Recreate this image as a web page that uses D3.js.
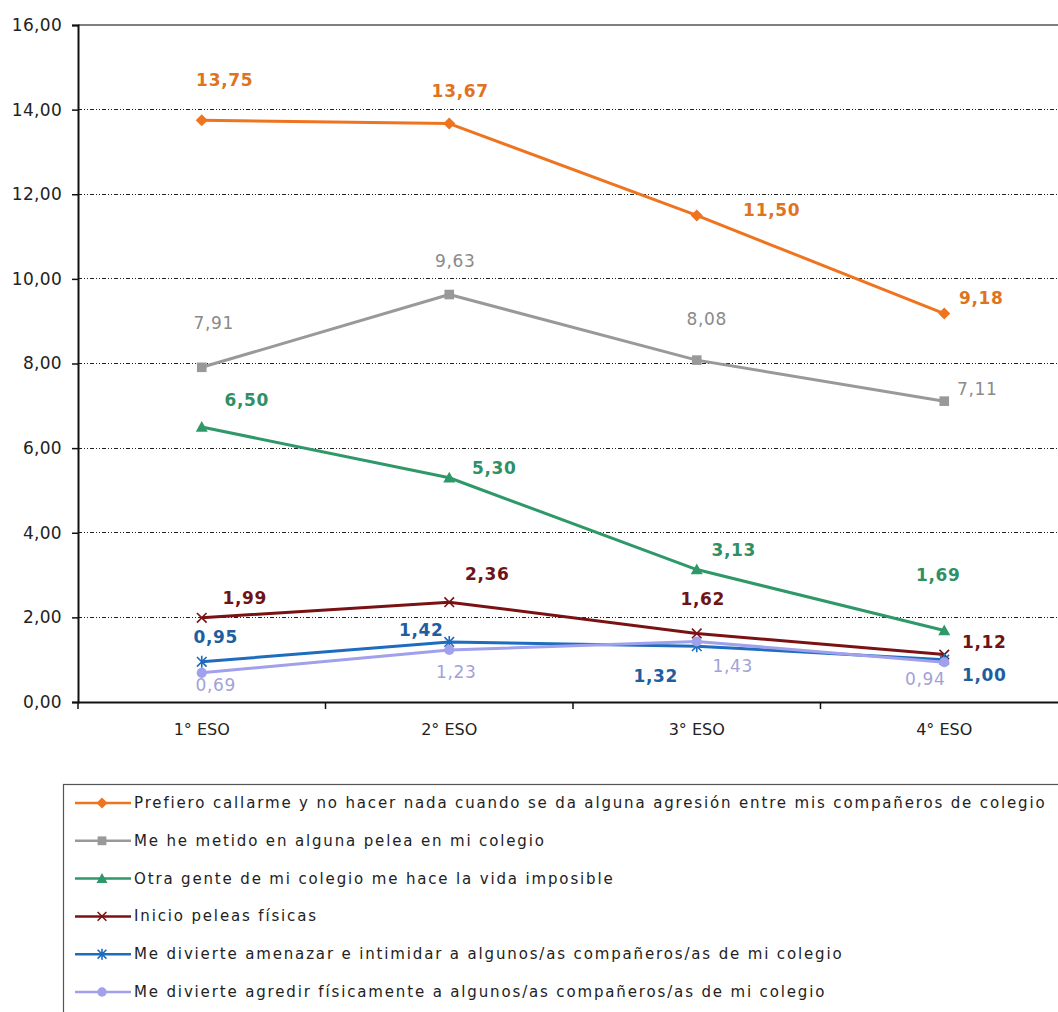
<!DOCTYPE html>
<html><head><meta charset="utf-8">
<script src="https://cdn.jsdelivr.net/npm/d3@7"></script>
<style>html,body{margin:0;padding:0;background:#fff;overflow:hidden}</style>
</head><body>
<svg id="chart" width="1058" height="1012"></svg>
<script>
const categories = ["1° ESO", "2° ESO", "3° ESO", "4° ESO"];
const yTicks = [0, 2, 4, 6, 8, 10, 12, 14, 16];
const seriesNames = [
  "Prefiero callarme y no hacer nada cuando se da alguna agresión entre mis compañeros de colegio",
  "Me he metido en alguna pelea en mi colegio",
  "Otra gente de mi colegio me hace la vida imposible",
  "Inicio peleas físicas",
  "Me divierte amenazar e intimidar a algunos/as compañeros/as de mi colegio",
  "Me divierte agredir físicamente a algunos/as compañeros/as de mi colegio"
];
const prefieroCallarme = [13.75, 13.67, 11.50, 9.18];
const peleaColegio = [7.91, 9.63, 8.08, 7.11];
const vidaImposible = [6.50, 5.30, 3.13, 1.69];
const inicioPeleas = [1.99, 2.36, 1.62, 1.12];
const amenazar = [0.95, 1.42, 1.32, 1.00];
const agredir = [0.69, 1.23, 1.43, 0.94];
const seriesValues = [prefieroCallarme, peleaColegio, vidaImposible, inicioPeleas, amenazar, agredir];

// styling (not data)
const lineColors = ["#EE7420", "#999999", "#2F9868", "#7A1214", "#1E6CBE", "#A0A0EC"];
const labelColors = ["#E0731E", "#8A8A8A", "#2F8F65", "#6E1416", "#1E5E9E", "#A2A2D8"];
const labelBold = [true, false, true, true, true, false];
const markerTypes = ["diamond", "square", "triangle", "x", "asterisk", "circle"];
const labelOffsets = [
  [[23, -40], [11, -33], [75, -5], [37, -16]],
  [[12, -44], [6, -34], [10, -41], [33, -12]],
  [[45, -27], [45, -10], [37, -20], [-6, -55]],
  [[43, -20], [38, -28], [6, -34], [40, -13]],
  [[14, -25], [-28, -12], [-41, 30], [40, 15]],
  [[14, 12], [7, 22], [36, 25], [-19, 17]]
];

const svg = d3.select("#chart");
const mLeft = 78, mRight = 1068, mTop = 25, mBottom = 702;
const x = d3.scaleBand().domain(categories).range([mLeft, mRight]);
const y = d3.scaleLinear().domain([0, 16]).range([mBottom, mTop]);
const fmt = v => d3.format(".2f")(v).replace(".", ",");
const font = "'DejaVu Sans', Verdana, sans-serif";

// gridlines
svg.append("g").selectAll("line").data(yTicks.filter(t => t > 0 && t < 16)).join("line")
  .attr("x1", mLeft).attr("x2", 1058).attr("y1", d => y(d)).attr("y2", d => y(d))
  .attr("stroke", "#222").attr("stroke-width", 1).attr("stroke-dasharray", "4,2,1,2,1,2")
  .attr("shape-rendering", "crispEdges");

// top border
svg.append("line").attr("x1", mLeft).attr("x2", 1058).attr("y1", y(16)).attr("y2", y(16))
  .attr("stroke", "#555").attr("stroke-width", 1.5);

// y axis
const yAxis = d3.axisLeft(y).tickValues(yTicks).tickFormat(fmt).tickSize(6).tickPadding(10);
const gy = svg.append("g").attr("transform", `translate(${mLeft},0)`).call(yAxis);
gy.select(".domain").attr("stroke", "#111").attr("stroke-width", 2);
gy.selectAll(".tick line").attr("stroke", "#111").attr("stroke-width", 1.5);
gy.selectAll(".tick text").attr("font-family", font).attr("font-size", 17)
  .attr("letter-spacing", "0.3px").attr("fill", "#222");

// x axis
const xAxis = d3.axisBottom(x).tickSize(0).tickPadding(22);
const gx = svg.append("g").attr("transform", `translate(0,${mBottom})`).call(xAxis);
gx.select(".domain").attr("stroke", "#111").attr("stroke-width", 2);
gx.selectAll(".tick text").attr("font-family", font).attr("font-size", 16).attr("fill", "#222");
// boundary ticks
const boundaries = categories.map(c => x(c));
svg.append("g").selectAll("line").data(boundaries).join("line")
  .attr("x1", d => d).attr("x2", d => d).attr("y1", mBottom).attr("y2", mBottom + 7)
  .attr("stroke", "#111").attr("stroke-width", 1.5);

const cx = c => x(c) + x.bandwidth() / 2;
const line = d3.line().x((d, i) => cx(categories[i])).y(d => y(d));

function drawMarker(g, type, px, py, color, s) {
  if (type === "diamond") {
    g.append("path").attr("d", `M${px},${py - s}L${px + s},${py}L${px},${py + s}L${px - s},${py}Z`).attr("fill", color);
  } else if (type === "square") {
    g.append("rect").attr("x", px - s * 0.8).attr("y", py - s * 0.8).attr("width", s * 1.6).attr("height", s * 1.6).attr("fill", color);
  } else if (type === "triangle") {
    g.append("path").attr("d", `M${px},${py - s}L${px + s},${py + s * 0.8}L${px - s},${py + s * 0.8}Z`).attr("fill", color);
  } else if (type === "x") {
    g.append("path").attr("d", `M${px - s * 0.8},${py - s * 0.8}L${px + s * 0.8},${py + s * 0.8}M${px - s * 0.8},${py + s * 0.8}L${px + s * 0.8},${py - s * 0.8}`)
      .attr("stroke", color).attr("stroke-width", 1.6);
  } else if (type === "asterisk") {
    g.append("path").attr("d", `M${px - s * 0.8},${py - s * 0.8}L${px + s * 0.8},${py + s * 0.8}M${px - s * 0.8},${py + s * 0.8}L${px + s * 0.8},${py - s * 0.8}M${px},${py - s}L${px},${py + s}`)
      .attr("stroke", color).attr("stroke-width", 1.6);
  } else {
    g.append("circle").attr("cx", px).attr("cy", py).attr("r", s * 0.85).attr("fill", color);
  }
}

// series
seriesValues.forEach((vals, si) => {
  const g = svg.append("g");
  g.append("path").datum(vals).attr("d", line).attr("fill", "none")
    .attr("stroke", lineColors[si]).attr("stroke-width", 3).attr("stroke-linejoin", "round");
  vals.forEach((v, i) => drawMarker(g, markerTypes[si], cx(categories[i]), y(v), lineColors[si], 6));
});

// data labels
seriesValues.forEach((vals, si) => {
  svg.append("g").selectAll("text").data(vals).join("text")
    .attr("x", (d, i) => cx(categories[i]) + labelOffsets[si][i][0])
    .attr("y", (d, i) => y(d) + labelOffsets[si][i][1])
    .attr("text-anchor", "middle").attr("dominant-baseline", "central")
    .attr("font-family", font).attr("font-size", 17)
    .attr("font-weight", labelBold[si] ? "bold" : "normal")
    .attr("letter-spacing", "0.7px")
    .attr("fill", labelColors[si]).text(d => fmt(d));
});

// legend
const lg = svg.append("g");
lg.append("rect").attr("x", 63.5).attr("y", 784.5).attr("width", 1100).attr("height", 300)
  .attr("fill", "#fff").attr("stroke", "#555").attr("stroke-width", 1.2);
const rowY = d3.scalePoint().domain(seriesNames).range([803, 992]);
seriesNames.forEach((name, si) => {
  const ry = rowY(name);
  lg.append("line").attr("x1", 75).attr("x2", 131).attr("y1", ry).attr("y2", ry)
    .attr("stroke", lineColors[si]).attr("stroke-width", 2.5);
  drawMarker(lg, markerTypes[si], 102, ry, lineColors[si], 5.5);
  lg.append("text").attr("x", 134).attr("y", ry).attr("dominant-baseline", "central")
    .attr("font-family", font).attr("font-size", 15).attr("letter-spacing", "1.85px")
    .attr("fill", "#222").text(name);
});
</script>
</body></html>
